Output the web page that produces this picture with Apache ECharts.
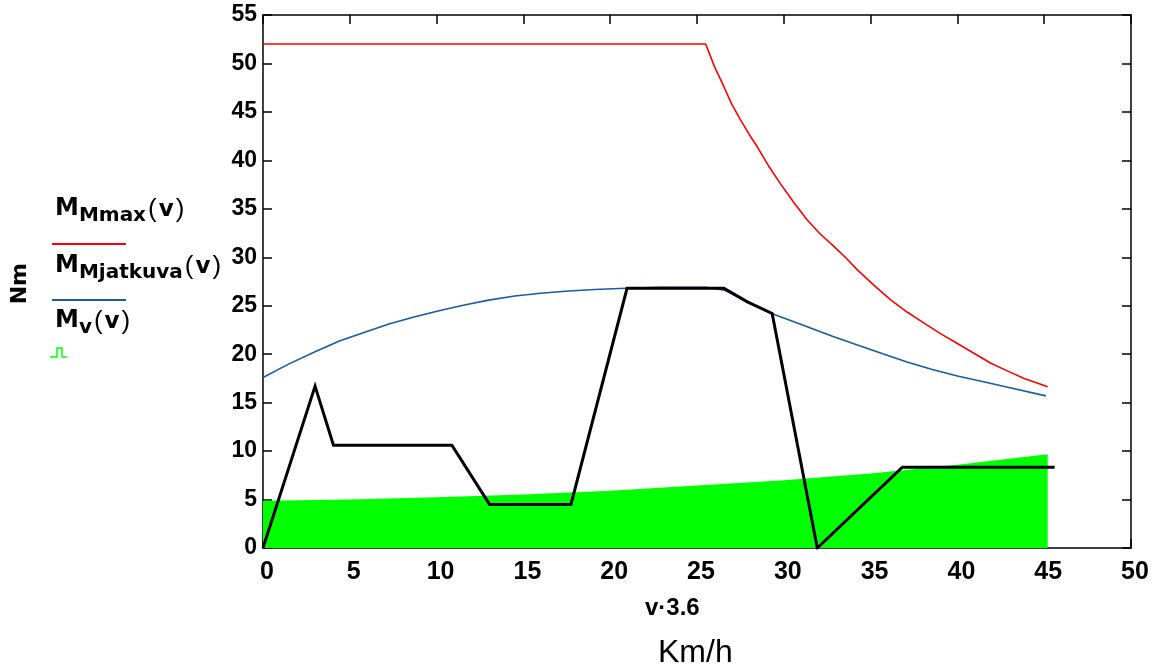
<!DOCTYPE html>
<html>
<head>
<meta charset="utf-8">
<script src="https://cdn.jsdelivr.net/npm/echarts@6/dist/echarts.min.js"></script>
<style>html,body{margin:0;padding:0;background:#fff}#c{width:1160px;height:671px}</style>
</head>
<body>
<div id="c"></div>
<script>
// Speed axis (v·3.6, km/h)
var xTicks = [0, 5, 10, 15, 20, 25, 30, 35, 40, 45, 50];
var yTicks = [0, 5, 10, 15, 20, 25, 30, 35, 40, 45, 50, 55];

// M_Mmax(v) – red
var maxX = [0, 25.5, 26.0, 26.55, 27.0, 27.5, 28.0, 28.47, 29.1, 29.8, 30.6, 31.35, 32.1, 32.9, 33.6, 34.24, 35.2, 36.16, 37.1, 38.08, 39.0, 40.0, 41.0, 41.93, 42.9, 43.85, 45.2];
var maxY = [52, 52, 49.7, 47.6, 45.8, 44.2, 42.7, 41.4, 39.5, 37.6, 35.6, 33.85, 32.4, 31.1, 29.9, 28.7, 27.1, 25.6, 24.35, 23.2, 22.15, 21.1, 20.05, 19.06, 18.25, 17.5, 16.65];

// M_Mjatkuva(v) – blue
var contX = [0, 1.5, 3.0, 4.4, 5.9, 7.3, 8.75, 10.2, 11.6, 13.0, 14.5, 16.0, 17.4, 19.1, 20.9, 23.0, 25.5, 26.6, 27.9, 29.3, 31.35, 32.8, 34.24, 35.7, 37.1, 38.5, 40.0, 41.5, 42.9, 45.1];
var contY = [17.6, 19.0, 20.26, 21.35, 22.3, 23.15, 23.87, 24.5, 25.08, 25.58, 26.0, 26.28, 26.5, 26.68, 26.8, 26.9, 26.9, 26.6, 25.4, 24.2, 22.84, 21.85, 20.95, 20.05, 19.2, 18.45, 17.75, 17.15, 16.58, 15.7];

// M_v(v) – green area
var resX = [0, 5, 10, 15, 20, 25, 30, 35, 40, 45.2];
var resY = [4.88, 5.0, 5.23, 5.52, 5.9, 6.45, 6.98, 7.7, 8.6, 9.67];

// Driving profile – black
var driveX = [0, 3.0, 4.06, 10.88, 13.05, 17.74, 20.97, 26.55, 27.9, 29.33, 31.93, 36.83, 45.6];
var driveY = [0, 16.7, 10.6, 10.6, 4.5, 4.5, 26.8, 26.8, 25.4, 24.2, 0, 8.33, 8.33];

function pairs(xs, ys) { return xs.map(function (x, i) { return [x, ys[i]]; }); }

var SANS = '"Liberation Sans", Arial, sans-serif';
var WIDE = '"DejaVu Sans", sans-serif';
var NARROW = '"Liberation Sans Narrow", "Liberation Sans", Arial, sans-serif';
var chart = echarts.init(document.getElementById('c'), null, { renderer: 'canvas' });

var lineAx = { show: true, onZero: false, lineStyle: { color: '#000', width: 1.5 } };
var tickIn = { show: true, inside: true, length: 9, lineStyle: { color: '#000', width: 1.5 } };

function legendText(sub) {
  return {
    text: '{m|M}{s|' + sub + '}{p|(}{v|v}{p|)}',
    rich: {
      m: { fontFamily: WIDE, fontWeight: 'bold', fontSize: 24, color: '#000', lineHeight: 32, verticalAlign: 'top' },
      s: { fontFamily: WIDE, fontWeight: 'bold', fontSize: 20, color: '#000', lineHeight: 32, padding: [9, 0, 0, 0], verticalAlign: 'top' },
      p: { fontFamily: SANS, fontSize: 26, color: '#000', lineHeight: 32, verticalAlign: 'top', padding: [0, 2, 0, 2] },
      v: { fontFamily: WIDE, fontWeight: 'bold', fontSize: 23, color: '#000', lineHeight: 32, verticalAlign: 'top', padding: [2, 0, 0, 0] }
    }
  };
}

chart.setOption({
  animation: false,
  backgroundColor: '#fff',
  grid: { left: 263, right: 29, top: 15, bottom: 123, containLabel: false },
  xAxis: [{
    type: 'value', min: 0, max: 50, interval: 5,
    axisLine: lineAx, axisTick: tickIn, splitLine: { show: false },
    axisLabel: { margin: 12, padding: [0, 0, 0, 8], color: '#000', fontFamily: NARROW, fontWeight: 'bold', fontSize: 25,
      formatter: function (v) { return xTicks.indexOf(v) >= 0 ? String(v) : ''; } }
  }, {
    type: 'value', position: 'top', min: 0, max: 50, interval: 5,
    axisLine: lineAx, axisTick: tickIn, splitLine: { show: false }, axisLabel: { show: false }
  }],
  yAxis: [{
    type: 'value', min: 0, max: 55, interval: 5,
    axisLine: lineAx, axisTick: tickIn, splitLine: { show: false },
    axisLabel: { margin: 6, color: '#000', fontFamily: SANS, fontWeight: 'bold', fontSize: 23,
      formatter: function (v) { return yTicks.indexOf(v) >= 0 ? String(v) : ''; } }
  }, {
    type: 'value', position: 'right', min: 0, max: 55, interval: 5,
    axisLine: lineAx, axisTick: tickIn, splitLine: { show: false }, axisLabel: { show: false }
  }],
  series: [
    {
      name: 'M_v(v)', type: 'line', data: pairs(resX, resY), symbol: 'none',
      lineStyle: { width: 0, color: '#00ff00' },
      areaStyle: { color: '#00ff00', opacity: 1, origin: 'start' }, z: 1
    },
    {
      name: 'M_Mmax(v)', type: 'line', data: pairs(maxX, maxY), symbol: 'none',
      lineStyle: { width: 1.6, color: '#ff0000' }, z: 3
    },
    {
      name: 'M_Mjatkuva(v)', type: 'line', data: pairs(contX, contY), symbol: 'none',
      lineStyle: { width: 1.6, color: '#1a5aa6' }, z: 3
    },
    {
      name: 'drive', type: 'line', data: pairs(driveX, driveY), symbol: 'none',
      lineStyle: { width: 3, color: '#000', join: 'miter' }, z: 4
    }
  ],
  graphic: [
    { type: 'text', left: 9, top: 263, rotation: Math.PI / 2, style: { text: 'Nm', fontFamily: WIDE, fontWeight: 'bold', fontSize: 22, fill: '#000' } },
    { type: 'text', left: 55, top: 197, style: legendText('Mmax') },
    { type: 'line', shape: { x1: 52, y1: 244, x2: 126, y2: 244 }, style: { stroke: '#ff0000', lineWidth: 2 } },
    { type: 'text', left: 55, top: 254, style: legendText('Mjatkuva') },
    { type: 'line', shape: { x1: 52, y1: 300, x2: 126, y2: 300 }, style: { stroke: '#1a5aa6', lineWidth: 2 } },
    { type: 'text', left: 55, top: 309, style: legendText('v') },
    { type: 'polyline', shape: { points: [[50, 357], [57, 357], [57, 348], [62, 348], [62, 357], [67, 357]] }, style: { stroke: '#00ff00', lineWidth: 1.5, fill: null } },
    { type: 'text', left: 645, top: 596, style: { text: 'v·3.6', fontFamily: SANS, fontWeight: 'bold', fontSize: 24, fill: '#000' } },
    { type: 'text', left: 658, top: 637, style: { text: 'Km/h', fontFamily: SANS, fontSize: 32, fill: '#000' } }
  ]
});
</script>
</body>
</html>
